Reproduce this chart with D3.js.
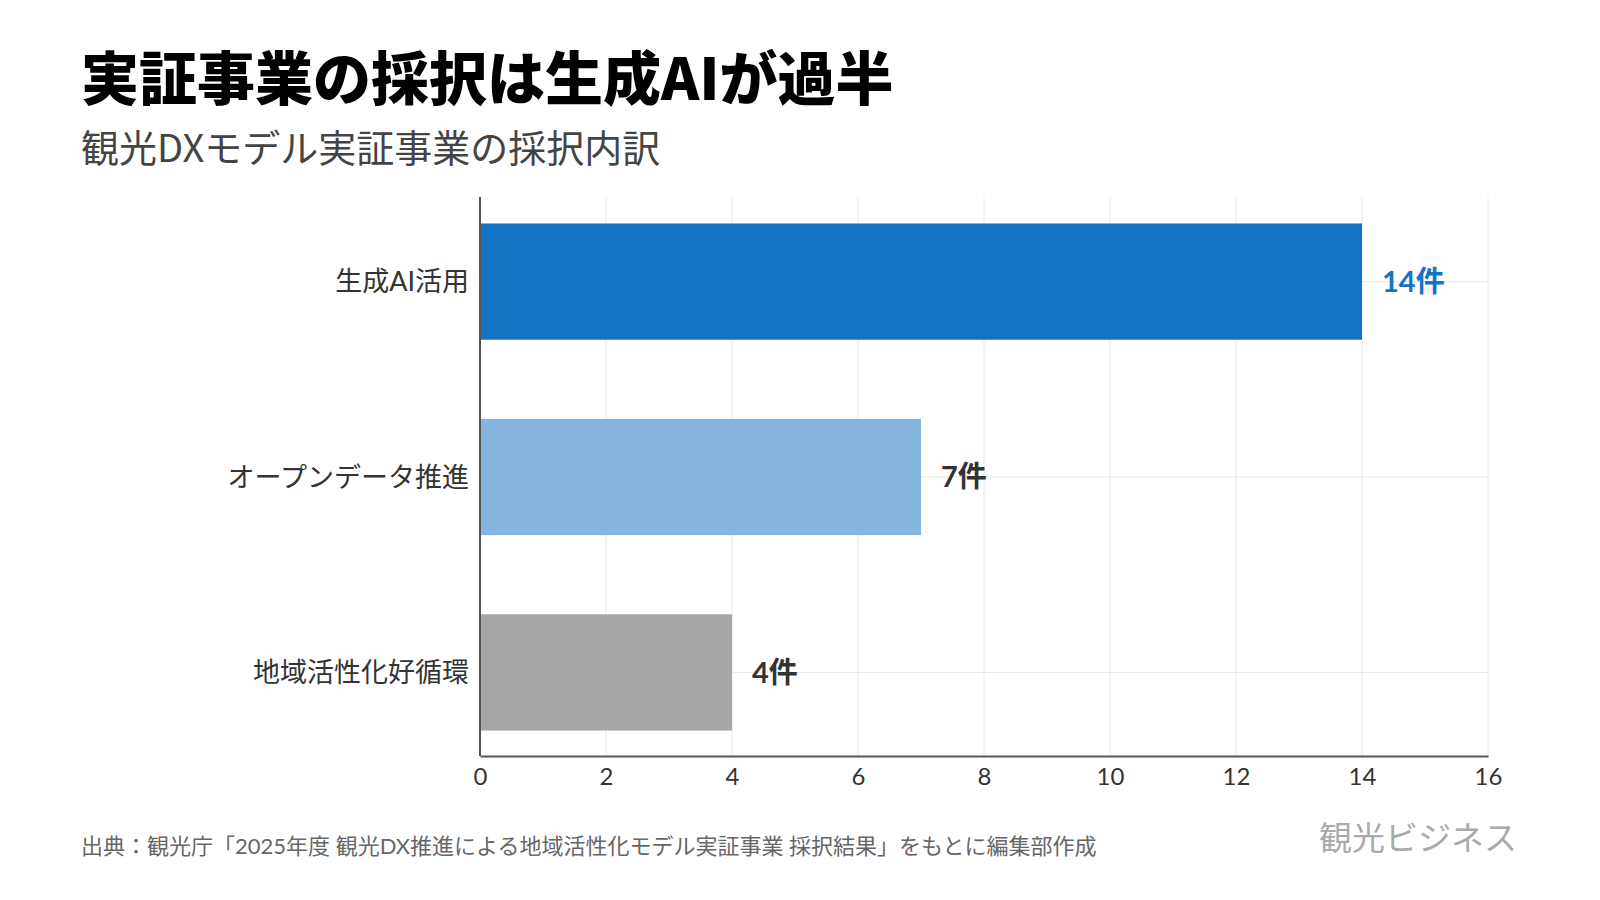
<!DOCTYPE html>
<html><head><meta charset="utf-8">
<script src="https://cdn.jsdelivr.net/npm/d3@7"></script>
<style>
body{margin:0;background:#fff;}
svg{display:block;}
</style></head>
<body>
<svg id="chart" width="1600" height="900"></svg>
<script>
const categories = ["生成AI活用", "オープンデータ推進", "地域活性化好循環"];
const values = [14, 7, 4];
const valueLabels = ["14件", "7件", "4件"];
const barColors = ["#1473c2", "#85b5df", "#a6a6a6"];
const labelColors = ["#1473c2", "#333333", "#333333"];
const xTicks = [0, 2, 4, 6, 8, 10, 12, 14, 16];
const titleText = "実証事業の採択は生成AIが過半";
const subtitleText = "観光DXモデル実証事業の採択内訳";
const sourceText = "出典：観光庁「2025年度 観光DX推進による地域活性化モデル実証事業 採択結果」をもとに編集部作成";
const logoText = "観光ビジネス";

(function(){
const FONT = "Lato, 'Noto Sans CJK JP', sans-serif";
const svg = d3.select("#chart");

const pLeft = 480, pRight = 1488, pTop = 197, pBottom = 756;
const x = d3.scaleLinear().domain([0, 16]).range([pLeft, pRight]);
const y = d3.scalePoint().domain(categories).range([281.6, 672.4]);
const step = y.step();
const barH = step * 0.595;

svg.append("text").attr("x", 81).attr("y", 100)
  .attr("font-family", "'Noto Sans CJK JP', sans-serif").attr("font-weight", 900)
  .attr("font-size", 58).attr("fill", "#000").text(titleText);
svg.append("text").attr("x", 81).attr("y", 162)
  .attr("font-family", "'Noto Sans CJK JP', sans-serif").attr("font-weight", 400)
  .attr("font-size", 38).attr("fill", "#444").text(subtitleText);

const g = svg.append("g");
g.selectAll(".vg").data(xTicks.filter(d => d > 0)).join("line")
  .attr("x1", d => x(d)).attr("x2", d => x(d))
  .attr("y1", pTop).attr("y2", pBottom)
  .attr("stroke", "#e8e8e8").attr("stroke-width", 1);
g.selectAll(".hg").data(categories).join("line")
  .attr("x1", pLeft).attr("x2", pRight)
  .attr("y1", d => y(d)).attr("y2", d => y(d))
  .attr("stroke", "#e8e8e8").attr("stroke-width", 1);

g.selectAll(".bar").data(categories).join("rect")
  .attr("x", x(0)).attr("y", d => y(d) - barH / 2)
  .attr("width", (d, i) => x(values[i]) - x(0)).attr("height", barH)
  .attr("fill", (d, i) => barColors[i]);

g.selectAll(".val").data(categories).join("text")
  .attr("x", (d, i) => x(values[i]) + 20).attr("y", d => y(d))
  .attr("dy", "0.36em")
  .attr("font-family", FONT).attr("font-weight", 700).attr("font-size", 29)
  .attr("fill", (d, i) => labelColors[i]).text((d, i) => valueLabels[i]);

g.selectAll(".cat").data(categories).join("text")
  .attr("x", pLeft - 11).attr("y", d => y(d)).attr("dy", "0.36em")
  .attr("text-anchor", "end")
  .attr("font-family", FONT).attr("font-size", 27).attr("fill", "#333")
  .text(d => d);

const xAxis = d3.axisBottom(x).tickValues(xTicks).tickSize(0).tickPadding(12);
const ax = svg.append("g").attr("transform", `translate(0,${pBottom})`).call(xAxis);
ax.select(".domain").attr("stroke", "#555").attr("stroke-width", 2);
ax.selectAll("text").attr("font-family", FONT).attr("font-size", 24).attr("fill", "#333");

svg.append("line").attr("x1", pLeft).attr("x2", pLeft).attr("y1", pTop).attr("y2", pBottom)
  .attr("stroke", "#555").attr("stroke-width", 2);

svg.append("text").attr("x", 81).attr("y", 854)
  .attr("font-family", FONT).attr("font-size", 22).attr("fill", "#666").text(sourceText);
svg.append("text").attr("x", 1517).attr("y", 850).attr("text-anchor", "end")
  .attr("font-family", "'Noto Sans CJK JP', sans-serif").attr("font-weight", 400)
  .attr("font-size", 33).attr("fill", "#aaa").text(logoText);
})();
</script>
</body></html>
